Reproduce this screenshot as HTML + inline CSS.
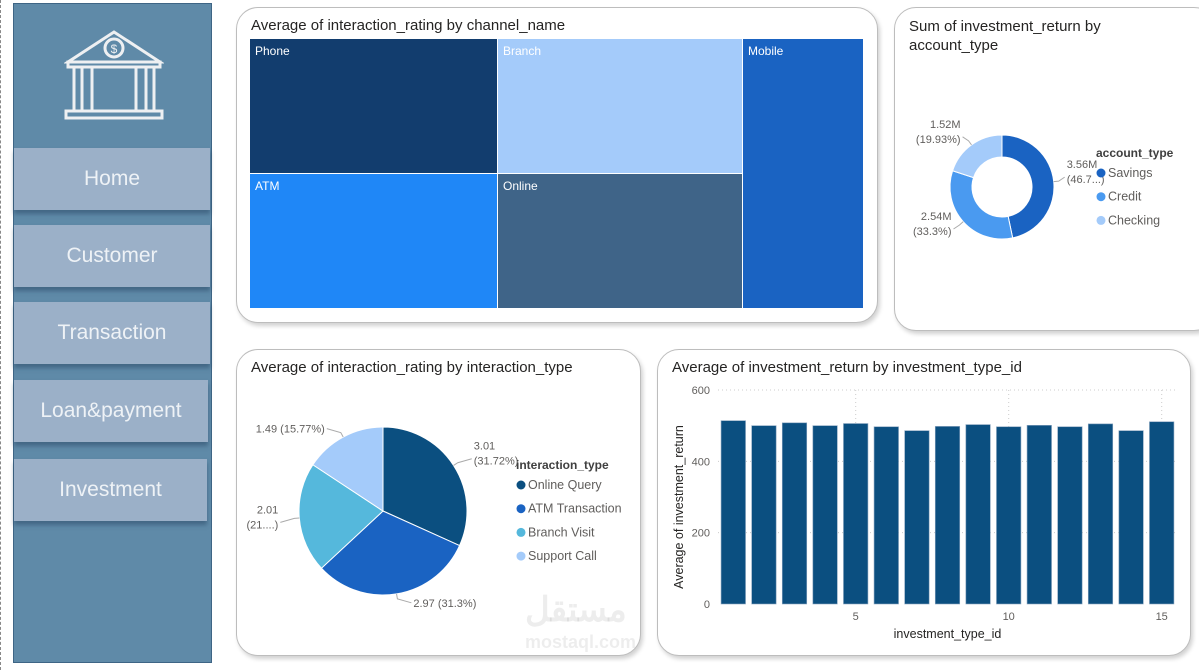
<!DOCTYPE html>
<html><head><meta charset="utf-8"><style>
body{margin:0;width:1199px;height:670px;background:#fff;font-family:"Liberation Sans",sans-serif;position:relative;overflow:hidden}
.abs{position:absolute}
.side{left:13px;top:3px;width:199px;height:660px;background:#5f8aa8;border:1px solid #3e6585;box-sizing:border-box}
.btn{position:absolute;left:14px;width:196px;height:62px;background:#9bb0c8;color:#eef2f6;font-size:21px;display:flex;align-items:center;justify-content:center;box-shadow:0 4px 4px rgba(40,70,100,.5)}
.panel{position:absolute;background:#fff;border:1px solid #bdbdbd;border-radius:22px;box-shadow:2px 3px 4px rgba(0,0,0,.18)}
.title{position:absolute;left:14px;top:9px;font-size:15px;color:#252423}
.tm{position:absolute;color:#fff;font-size:12px;padding:5px;box-sizing:border-box;border:1px solid #fff}
text{font-family:"Liberation Sans",sans-serif}
</style></head><body>
<div class="abs" style="left:0;top:0;width:1px;height:670px;border-left:1px dashed #888"></div>
<div class="abs side">
<svg class="abs" style="left:50px;top:22px" width="100" height="96" viewBox="0 0 100 96">
<g fill="none" stroke="#eef0f2" stroke-width="3"><path d="M4 36 L50 6 L96 36 Z"/><circle cx="50" cy="22" r="9"/><rect x="4" y="36" width="92" height="5"/><path d="M10 41v44M18 41v44M28 41v44M72 41v44M82 41v44M90 41v44"/><rect x="2" y="85" width="96" height="7"/></g>
<text x="50" y="27" font-size="12" fill="#eef0f2" text-anchor="middle">$</text></svg>
</div>
<div class="btn" style="top:148px">Home</div>
<div class="btn" style="top:225px">Customer</div>
<div class="btn" style="top:302px">Transaction</div>
<div class="btn" style="top:380px;width:194px">Loan&amp;payment</div>
<div class="btn" style="top:459px;width:193px">Investment</div>

<div class="panel" style="left:236px;top:7px;width:640px;height:314px">
<div class="title">Average of interaction_rating by channel_name</div>
<div class="tm" style="left:12px;top:30px;width:249px;height:136px;background:#123d6e">Phone</div>
<div class="tm" style="left:260px;top:30px;width:246px;height:136px;background:#a4cbfa">Branch</div>
<div class="tm" style="left:12px;top:165px;width:249px;height:136px;background:#1f87f7">ATM</div>
<div class="tm" style="left:260px;top:165px;width:246px;height:136px;background:#3f6488">Online</div>
<div class="tm" style="left:505px;top:30px;width:122px;height:271px;background:#1a63c2">Mobile</div>
</div>

<div class="panel" style="left:894px;top:7px;width:320px;height:322px">
<div class="title" style="line-height:19px">Sum of investment_return by<br>account_type</div>
<svg class="abs" style="left:0;top:0" width="305" height="322" id="donut"></svg>
</div>

<div class="panel" style="left:236px;top:349px;width:403px;height:305px">
<div class="title">Average of interaction_rating by interaction_type</div>
<svg class="abs" style="left:0;top:0" width="403" height="305" id="pie"></svg>
</div>

<div class="panel" style="left:657px;top:349px;width:532px;height:305px">
<div class="title">Average of investment_return by investment_type_id</div>
<svg class="abs" style="left:0;top:0" width="532" height="305" id="bar"></svg>
</div>

<div class="abs" style="left:525px;top:590px;font-size:34px;font-weight:bold;color:rgba(0,0,0,.07)">مستقل<br><span style="font-size:18px;position:relative;top:-12px">mostaql.com</span></div>

<script>
const NS='http://www.w3.org/2000/svg';
function mk(p,t,a,txt){const e=document.createElementNS(NS,t);for(const k in a)e.setAttribute(k,a[k]);if(txt!=null)e.textContent=txt;p.appendChild(e);return e;}

// Bar chart data
const barCats=[1,2,3,4,5,6,7,8,9,10,11,12,13,14,15];
const barVals=[514,500,508,500,506,497,486,498,503,497,501,497,505,486,511];
const yTicks=[0,200,400,600];
const xTicks=[5,10,15];

// Pie data
const pieCats=['Online Query','ATM Transaction','Branch Visit','Support Call'];
const pieVals=[3.01,2.97,2.01,1.49];
const pieLabels=['3.01|(31.72%)','2.97 (31.3%)','2.01|(21....)','1.49 (15.77%)'];
const pieColors=['#0b4f80','#1a63c2','#55b8dc','#a4cbfa'];

// Donut data
const donutCats=['Savings','Credit','Checking'];
const donutVals=[3.56,2.54,1.52];
const donutLabels=['3.56M|(46.7...)','2.54M|(33.3%)','1.52M|(19.93%)'];
const donutColors=['#1a63c2','#4a9af0','#a4cbfa'];

// bar
(function(){
const s=document.getElementById('bar');
const x0=60,x1=519,yb=254,yt=40,ymax=600;
const y=v=>yb-(v/ymax)*(yb-yt);
const bw=(x1-x0)/barCats.length;
const xc=c=>x0+(c-0.5)*bw;
yTicks.forEach(t=>{
 if(t>0){const g=mk(s,'line',{x1:x0,x2:x1,y1:y(t),y2:y(t),stroke:'#ccc','stroke-dasharray':'1 3'});}
 const l=mk(s,'text',{x:x0-8,y:y(t)+4,'font-size':11,fill:'#605e5c','text-anchor':'end'},t);
 
});
xTicks.forEach(t=>{
 const g=mk(s,'line',{x1:xc(t),x2:xc(t),y1:yt,y2:yb,stroke:'#ccc','stroke-dasharray':'1 3'});
 
 const l=mk(s,'text',{x:xc(t),y:yb+16,'font-size':11,fill:'#605e5c','text-anchor':'middle'},t);
 
});
barCats.forEach((c,i)=>{
 const r=mk(s,'rect',{x:xc(c)-bw*0.4,y:y(barVals[i]),width:bw*0.8,height:yb-y(barVals[i]),fill:'#0b4f80',stroke:'#8aa5bf','stroke-width':0.6});
 
});
const xt=mk(s,'text',{x:(x0+x1)/2,y:yb+34,'font-size':12.5,fill:'#252423','text-anchor':'middle'},'investment_type_id');

const yt2=mk(s,'text',{x:0,y:0,'font-size':12.5,fill:'#252423','text-anchor':'middle',transform:`translate(25,${(yb+yt)/2+10}) rotate(-90)`},'Average of investment_return');

})();

function arcPath(cx,cy,r,ri,a0,a1){
 const p=(a,rr)=>[cx+rr*Math.sin(a),cy-rr*Math.cos(a)];
 const lg=a1-a0>Math.PI?1:0;
 const [x0,y0]=p(a0,r),[x1,y1]=p(a1,r);
 if(ri===0)return `M${cx},${cy}L${x0},${y0}A${r},${r} 0 ${lg} 1 ${x1},${y1}Z`;
 const [x2,y2]=p(a1,ri),[x3,y3]=p(a0,ri);
 return `M${x0},${y0}A${r},${r} 0 ${lg} 1 ${x1},${y1}L${x2},${y2}A${ri},${ri} 0 ${lg} 0 ${x3},${y3}Z`;
}
function drawRing(s,cats,vals,labels,colors,cx,cy,r,ri,name,lpos,hOff){
 const tot=vals.reduce((a,b)=>a+b,0);let a=0;
 vals.forEach((v,i)=>{
  const a1=a+v/tot*2*Math.PI;
  const p=mk(s,'path',{d:arcPath(cx,cy,r,ri,a,a1),fill:colors[i],stroke:'#fff','stroke-width':1});
  
  
  const m=(a+a1)/2;
  const ex=cx+(r+5)*Math.sin(m),ey=cy-(r+5)*Math.cos(m);
  const right=Math.sin(m)>=0;
  const lx=ex+(right?hOff:-hOff);
  const ty=ey-(Math.cos(m)>0?4:-4);
  const ln=mk(s,'polyline',{points:`${cx+r*Math.sin(m)},${cy-r*Math.cos(m)} ${ex},${ey} ${lx},${ty}`,fill:'none',stroke:'#aaa'});
  
  const parts=labels[i].split('|');
  const tx=lx+(right?2:-2);
  const t=mk(s,'text',{x:tx,y:ty+(parts.length>1?-9:4),'font-size':11,fill:'#605e5c','text-anchor':right?'start':'end'});
  parts.forEach((pt,j)=>{mk(t,'tspan',{x:tx,dy:j?15:0},pt);});
  
  a=a1;
 });
 const [lx,ly,title]=lpos;
 const lt=mk(s,'text',{x:lx,y:ly,'font-size':12,'font-weight':'bold',fill:'#404040'},title);
 
 cats.forEach((c,i)=>{
  const g=mk(s,'g',{});
  
  mk(g,'circle',{cx:lx+5,cy:ly+16+i*23.7,r:4.5,fill:colors[i]});
  mk(g,'text',{x:lx+12,y:ly+20+i*23.7,'font-size':12.5,fill:'#605e5c'},c);
 });
}
drawRing(document.getElementById('pie'),pieCats,pieVals,pieLabels,pieColors,146,161,84,0,'pie',[279,119,'interaction_type'],14);
drawRing(document.getElementById('donut'),donutCats,donutVals,donutLabels,donutColors,107,179,52,30,'donut',[201,149,'account_type'],6);
</script>
</body></html>
